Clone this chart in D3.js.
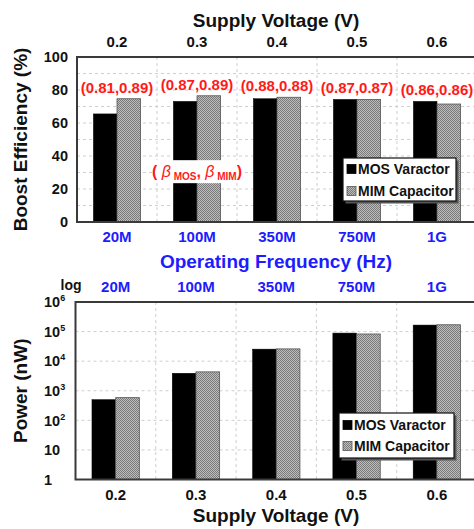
<!DOCTYPE html>
<html>
<head>
<meta charset="utf-8">
<script src="https://cdn.jsdelivr.net/npm/d3@7/dist/d3.min.js"></script>
<style>
  html, body { margin: 0; padding: 0; background: #fff; }
  svg { display: block; font-family: "Liberation Sans", Arial, sans-serif; font-weight: bold; }
</style>
</head>
<body>
<svg id="chart" width="474" height="529"></svg>
<script>
// Categories and tick labels
const voltages = ["0.2", "0.3", "0.4", "0.5", "0.6"];
const frequencies = ["20M", "100M", "350M", "750M", "1G"];
const seriesNames = ["MOS Varactor", "MIM Capacitor"];
const efficiencyTicks = [0, 20, 40, 60, 80, 100];
const efficiencyGrid = [10, 20, 30, 40, 50, 60, 70, 80, 90];
const powerTicks = [1, 10, 100, 1e3, 1e4, 1e5, 1e6];

// Boost efficiency (%)
const efficiencyMOS = [65.5, 73.1, 74.7, 74.3, 73.1];
const efficiencyMIM = [74.7, 76.5, 75.6, 74.3, 71.5];
// Boost ratios (beta_MOS, beta_MIM)
const betaMOS = [0.81, 0.87, 0.88, 0.87, 0.86];
const betaMIM = [0.89, 0.89, 0.88, 0.87, 0.86];
// Power (nW)
const powerMOS = [500, 3900, 25500, 89000, 166000];
const powerMIM = [585, 4350, 26000, 83000, 170000];

const BLUE = "#1c1cff", RED = "#ff1a1a";
const svg = d3.select("#chart");

// Dotted gray fill for the MIM bars
const defs = svg.append("defs");
const pat = defs.append("pattern").attr("id", "dots")
  .attr("width", 2).attr("height", 2).attr("patternUnits", "userSpaceOnUse");
pat.append("rect").attr("width", 2).attr("height", 2).attr("fill", "#bdbdbd");
pat.append("rect").attr("width", 1).attr("height", 1).attr("fill", "#7a7a7a");
pat.append("rect").attr("x", 1).attr("y", 1).attr("width", 1).attr("height", 1).attr("fill", "#7a7a7a");

const fills = ["#000", "url(#dots)"];
const strokes = ["#000", "#555"];

function drawPanel(opts) {
  const { left, right, top, bottom, y, gridVals, yTicks, yFormat, topLabels, topColor,
          bottomLabels, bottomColor, values, yTitle, legendBox } = opts;
  const g = svg.append("g");
  const x0 = d3.scaleBand().domain(d3.range(voltages.length)).range([left, right]);
  const bw = x0.bandwidth();
  const x1 = d3.scaleBand().domain(seriesNames).range([bw * 0.205, bw * 0.795]);

  // dashed grid
  g.append("g").selectAll("line").data(gridVals).join("line")
    .attr("x1", left).attr("x2", right)
    .attr("y1", d => y(d)).attr("y2", d => y(d))
    .attr("stroke", "#cfcfcf").attr("stroke-width", 1).attr("stroke-dasharray", "3,3");
  g.append("g").selectAll("line").data(d3.range(1, voltages.length)).join("line")
    .attr("x1", d => x0(d)).attr("x2", d => x0(d))
    .attr("y1", top).attr("y2", bottom)
    .attr("stroke", "#cfcfcf").attr("stroke-width", 1).attr("stroke-dasharray", "3,3");

  // bars
  seriesNames.forEach((s, si) => {
    g.append("g").selectAll("rect").data(values[si]).join("rect")
      .attr("x", (d, i) => x0(i) + x1(s))
      .attr("width", x1.bandwidth())
      .attr("y", d => y(d))
      .attr("height", d => bottom - y(d))
      .attr("fill", fills[si])
      .attr("stroke", strokes[si]).attr("stroke-width", si ? 0.8 : 0.5);
  });

  // frame
  g.append("rect").attr("x", left).attr("y", top)
    .attr("width", right - left).attr("height", bottom - top)
    .attr("fill", "none").attr("stroke", "#3a3a3a").attr("stroke-width", 2);

  // y tick labels
  const yAxis = g.append("g").attr("font-size", 14.5).attr("fill", "#111");
  yTicks.forEach(t => {
    const txt = yAxis.append("text").attr("x", left - 9).attr("y", y(t))
      .attr("text-anchor", "end").attr("dy", "0.36em");
    yFormat(txt, t);
  });

  // top and bottom category labels
  g.append("g").selectAll("text").data(topLabels).join("text")
    .attr("x", (d, i) => x0(i) + bw / 2).attr("y", top - 10)
    .attr("text-anchor", "middle").attr("font-size", 15).attr("fill", topColor)
    .text(d => d);
  g.append("g").selectAll("text").data(bottomLabels).join("text")
    .attr("x", (d, i) => x0(i) + bw / 2).attr("y", bottom + 20)
    .attr("text-anchor", "middle").attr("font-size", 15).attr("fill", bottomColor)
    .text(d => d);

  // y title
  g.append("text")
    .attr("transform", `translate(27,${(top + bottom) / 2}) rotate(-90)`)
    .attr("text-anchor", "middle").attr("font-size", 19).attr("fill", "#111")
    .text(yTitle);

  // legend
  const lg = g.append("g").attr("transform", `translate(${legendBox.x},${legendBox.y})`);
  lg.append("rect").attr("x", 2.5).attr("y", 2.5).attr("width", legendBox.w).attr("height", legendBox.h)
    .attr("fill", "#555");
  lg.append("rect").attr("width", legendBox.w).attr("height", legendBox.h)
    .attr("fill", "#fff").attr("stroke", "#111").attr("stroke-width", 1.2);
  seriesNames.forEach((s, si) => {
    const cy = legendBox.rows[si];
    lg.append("rect").attr("x", 4).attr("y", cy - 4.5).attr("width", 9).attr("height", 9)
      .attr("fill", fills[si]).attr("stroke", strokes[si]).attr("stroke-width", 0.8);
    lg.append("text").attr("x", 15).attr("y", cy).attr("dy", "0.36em")
      .attr("font-size", 14).attr("fill", "#111").text(s);
  });

  return { g, x0, x1, bw };
}

// ---- Boost efficiency panel ----
const yEff = d3.scaleLinear().domain([0, 100]).range([222, 57]);
const effPanel = drawPanel({
  left: 77, right: 477, top: 57, bottom: 222, y: yEff,
  gridVals: efficiencyGrid, yTicks: efficiencyTicks,
  yFormat: (t, v) => t.text(v),
  topLabels: voltages, topColor: "#111",
  bottomLabels: frequencies, bottomColor: BLUE,
  values: [efficiencyMOS, efficiencyMIM],
  yTitle: "Boost Efficiency (%)",
  legendBox: { x: 343, y: 158, w: 113, h: 43, rows: [11, 33] }
});

// ratio labels above each pair
effPanel.g.append("g").selectAll("text").data(betaMOS).join("text")
  .attr("x", (d, i) => effPanel.x0(i) + effPanel.bw / 2)
  .attr("y", (d, i) => yEff(Math.max(efficiencyMOS[i], efficiencyMIM[i])) - 6)
  .attr("text-anchor", "middle").attr("font-size", 15).attr("fill", RED)
  .text((d, i) => `(${d.toFixed(2)},${betaMIM[i].toFixed(2)})`);

// (β_MOS, β_MIM) key with white backing
const keyX = effPanel.x0(1) + effPanel.bw / 2;
const keyY = yEff(30.5);
effPanel.g.append("rect").attr("x", keyX - 45).attr("y", keyY - 11.5)
  .attr("width", 90).attr("height", 23).attr("fill", "#fff");
const key = effPanel.g.append("text").attr("x", keyX).attr("y", keyY).attr("dy", "0.36em")
  .attr("text-anchor", "middle").attr("fill", RED).attr("font-size", 16);
key.append("tspan").text("( ");
key.append("tspan").attr("font-weight", "normal").attr("font-style", "italic").text("β");
key.append("tspan").attr("font-size", 10).attr("dy", 3).text(" MOS");
key.append("tspan").attr("dy", -3).text(", ");
key.append("tspan").attr("font-weight", "normal").attr("font-style", "italic").text("β");
key.append("tspan").attr("font-size", 10).attr("dy", 3).text(" MIM");
key.append("tspan").attr("dy", -3).text(")");

// axis titles
svg.append("text").attr("x", 276).attr("y", 27).attr("text-anchor", "middle")
  .attr("font-size", 19).attr("fill", "#111").text("Supply Voltage (V)");
svg.append("text").attr("x", 276).attr("y", 268).attr("text-anchor", "middle")
  .attr("font-size", 19).attr("fill", BLUE).text("Operating Frequency (Hz)");

// ---- Power panel ----
const yPow = d3.scaleLog().domain([1, 1e6]).range([479.5, 302]);
const supFormat = (t, v) => {
  const e = Math.round(Math.log10(v));
  if (e < 2) { t.text(v); return; }
  t.append("tspan").text("10");
  t.append("tspan").attr("font-size", 9).attr("dy", -6).text(e);
};
drawPanel({
  left: 75.5, right: 477, top: 302, bottom: 479.5, y: yPow,
  gridVals: powerTicks.slice(1, -1), yTicks: powerTicks,
  yFormat: (t, v) => { t.attr("text-anchor", "start").attr("x", 44); supFormat(t, v); },
  topLabels: frequencies, topColor: BLUE,
  bottomLabels: voltages, bottomColor: "#111",
  values: [powerMOS, powerMIM],
  yTitle: "Power (nW)",
  legendBox: { x: 339, y: 413, w: 115, h: 45, rows: [12, 33] }
});
svg.append("text").attr("x", 71).attr("y", 290).attr("text-anchor", "middle")
  .attr("font-size", 14).attr("fill", "#111").text("log");
svg.append("text").attr("x", 276).attr("y", 522).attr("text-anchor", "middle")
  .attr("font-size", 19).attr("fill", "#111").text("Supply Voltage (V)");
</script>
</body>
</html>
